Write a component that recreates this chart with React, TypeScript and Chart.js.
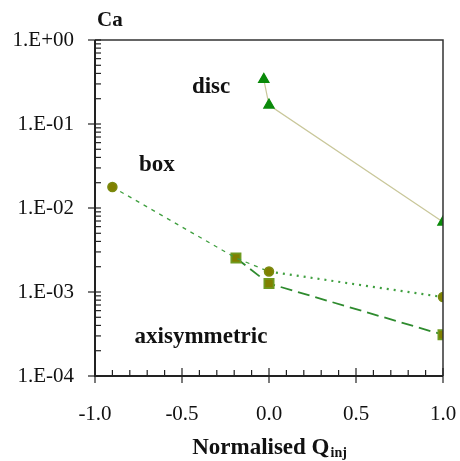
import React, { useEffect, useRef } from "react";
import { Chart, registerables } from "chart.js";

Chart.register(...registerables);

const discX = [-0.03, 0.0, 1.0];
const discY = [0.34, 0.168, 0.0068];
const boxX = [-0.9, -0.19, 0.0, 1.0];
const boxY = [0.0178, 0.00254, 0.00175, 0.00087];
const boxRadius = [4.5, 0, 4.5, 4.5];
const axiX = [-0.19, 0.0, 1.0];
const axiY = [0.00254, 0.00126, 0.00031];
const yTicks = [1e-4, 1e-3, 1e-2, 1e-1, 1];
const yTickLabels = ["1.E-04", "1.E-03", "1.E-02", "1.E-01", "1.E+00"];
const xTicks = [-1.0, -0.5, 0.0, 0.5, 1.0];
const xTickLabels = ["-1.0", "-0.5", "0.0", "0.5", "1.0"];
const labels = [
  { text: "disc", x: -0.333, y: 0.275 },
  { text: "box", x: -0.644, y: 0.0325 },
  { text: "axisymmetric", x: -0.391, y: 0.00029 },
];

const SERIF = "'Liberation Serif', 'DejaVu Serif', serif";

const framePlugin = {
  id: "frame",
  afterDraw(chart: any) {
    const { ctx, chartArea: a, scales } = chart;
    const xs = scales.x;
    const ys = scales.y;
    ctx.save();
    ctx.strokeStyle = "#333";
    ctx.lineWidth = 1.5;
    ctx.beginPath();
    ctx.moveTo(a.left, a.top);
    ctx.lineTo(a.right, a.top);
    ctx.lineTo(a.right, a.bottom);
    ctx.stroke();
    ctx.lineWidth = 2;
    ctx.strokeStyle = "#222";
    ctx.beginPath();
    ctx.moveTo(a.left, a.top);
    ctx.lineTo(a.left, a.bottom);
    ctx.lineTo(a.right, a.bottom);
    ctx.stroke();
    ctx.lineWidth = 1.2;
    for (let d = -4; d <= 0; d++) {
      const py = ys.getPixelForValue(Math.pow(10, d));
      ctx.beginPath();
      ctx.moveTo(a.left - 7, py);
      ctx.lineTo(a.left + 6, py);
      ctx.stroke();
      if (d < 0) {
        for (let m = 2; m <= 9; m++) {
          const pm = ys.getPixelForValue(m * Math.pow(10, d));
          ctx.beginPath();
          ctx.moveTo(a.left, pm);
          ctx.lineTo(a.left + 6, pm);
          ctx.stroke();
        }
      }
    }
    for (let i = -10; i <= 10; i++) {
      const v = i / 10;
      const px = xs.getPixelForValue(v);
      const major = i % 5 === 0;
      ctx.beginPath();
      ctx.moveTo(px, major ? a.bottom + 7 : a.bottom);
      ctx.lineTo(px, a.bottom - (major ? 8 : 6));
      ctx.stroke();
    }
    ctx.fillStyle = "#111";
    ctx.font = `21px ${SERIF}`;
    ctx.textAlign = "center";
    ctx.textBaseline = "middle";
    xTicks.forEach((v, i) => {
      ctx.fillText(xTickLabels[i], xs.getPixelForValue(v), 414);
    });
    ctx.font = `bold 23px ${SERIF}`;
    for (const l of labels) {
      ctx.fillText(l.text, xs.getPixelForValue(l.x), ys.getPixelForValue(l.y));
    }
    ctx.font = `bold 21px ${SERIF}`;
    ctx.textAlign = "left";
    ctx.fillText("Ca", a.left + 2, 21);
    const main = "Normalised Q";
    ctx.font = `bold 23px ${SERIF}`;
    const w1 = ctx.measureText(main).width;
    ctx.font = `bold 14px ${SERIF}`;
    const w2 = ctx.measureText("inj").width;
    const cx = (a.left + a.right) / 2;
    const start = cx - (w1 + w2) / 2;
    ctx.font = `bold 23px ${SERIF}`;
    ctx.fillText(main, start, 448);
    ctx.font = `bold 14px ${SERIF}`;
    ctx.fillText("inj", start + w1 + 1, 453);
    ctx.restore();
  },
};

export default function App() {
  const ref = useRef<HTMLCanvasElement>(null);
  useEffect(() => {
    document.body.style.margin = "0";
    const chart = new Chart(ref.current!, {
      type: "scatter",
      data: {
        datasets: [
          {
            label: "disc",
            data: discX.map((x, i) => ({ x, y: discY[i] })),
            showLine: true,
            borderColor: "#c9c79a",
            borderWidth: 1.2,
            pointStyle: "triangle",
            pointRadius: 6,
            pointBackgroundColor: "#0a8a0a",
            pointBorderColor: "#0a8a0a",
          },
          {
            label: "box",
            data: boxX.map((x, i) => ({ x, y: boxY[i] })),
            showLine: true,
            borderColor: "#3f9f3f",
            borderWidth: 1.5,
            segment: {
              borderDash: (c: any) => (c.p0DataIndex >= 2 ? [2, 5] : [4, 5]),
              borderWidth: (c: any) => (c.p0DataIndex >= 2 ? 2.2 : 1.3),
            },
            pointStyle: "circle",
            pointRadius: boxRadius,
            pointBackgroundColor: "#808000",
            pointBorderColor: "#7a8a10",
          },
          {
            label: "axisymmetric",
            data: axiX.map((x, i) => ({ x, y: axiY[i] })),
            showLine: true,
            borderColor: "#2e8b2e",
            borderWidth: 1.8,
            borderDash: [12, 6],
            pointStyle: "rect",
            pointRadius: 6.5,
            pointBackgroundColor: "#808000",
            pointBorderColor: "#6f9a20",
          },
        ],
      },
      options: {
        responsive: false,
        animation: false,
        layout: { padding: { top: 40, right: 17, left: 0, bottom: 0 } },
        plugins: { legend: { display: false }, tooltip: { enabled: false } },
        scales: {
          x: {
            type: "linear",
            min: -1,
            max: 1,
            afterBuildTicks: (s: any) => {
              s.ticks = xTicks.map((v) => ({ value: v }));
            },
            afterFit: (s: any) => {
              s.height = 85;
            },
            grid: { display: false },
            border: { display: false },
            ticks: { display: false },
          },
          y: {
            type: "logarithmic",
            min: 1e-4,
            max: 1,
            afterBuildTicks: (s: any) => {
              s.ticks = yTicks.map((v) => ({ value: v }));
            },
            afterFit: (s: any) => {
              s.width = 95;
            },
            grid: { display: true, drawOnChartArea: false, drawTicks: false, color: "rgba(0,0,0,0)" },
            border: { display: false },
            ticks: {
              padding: 21,
              color: "#111",
              font: { family: SERIF, size: 21 },
              callback: (v: any) => {
                const i = yTicks.findIndex((t) => Math.abs(Math.log10(t) - Math.log10(v)) < 1e-6);
                return i >= 0 ? yTickLabels[i] : "";
              },
            },
          },
        },
      },
      plugins: [framePlugin],
    });
    return () => chart.destroy();
  }, []);
  return <canvas ref={ref} width={460} height={461} />;
}
